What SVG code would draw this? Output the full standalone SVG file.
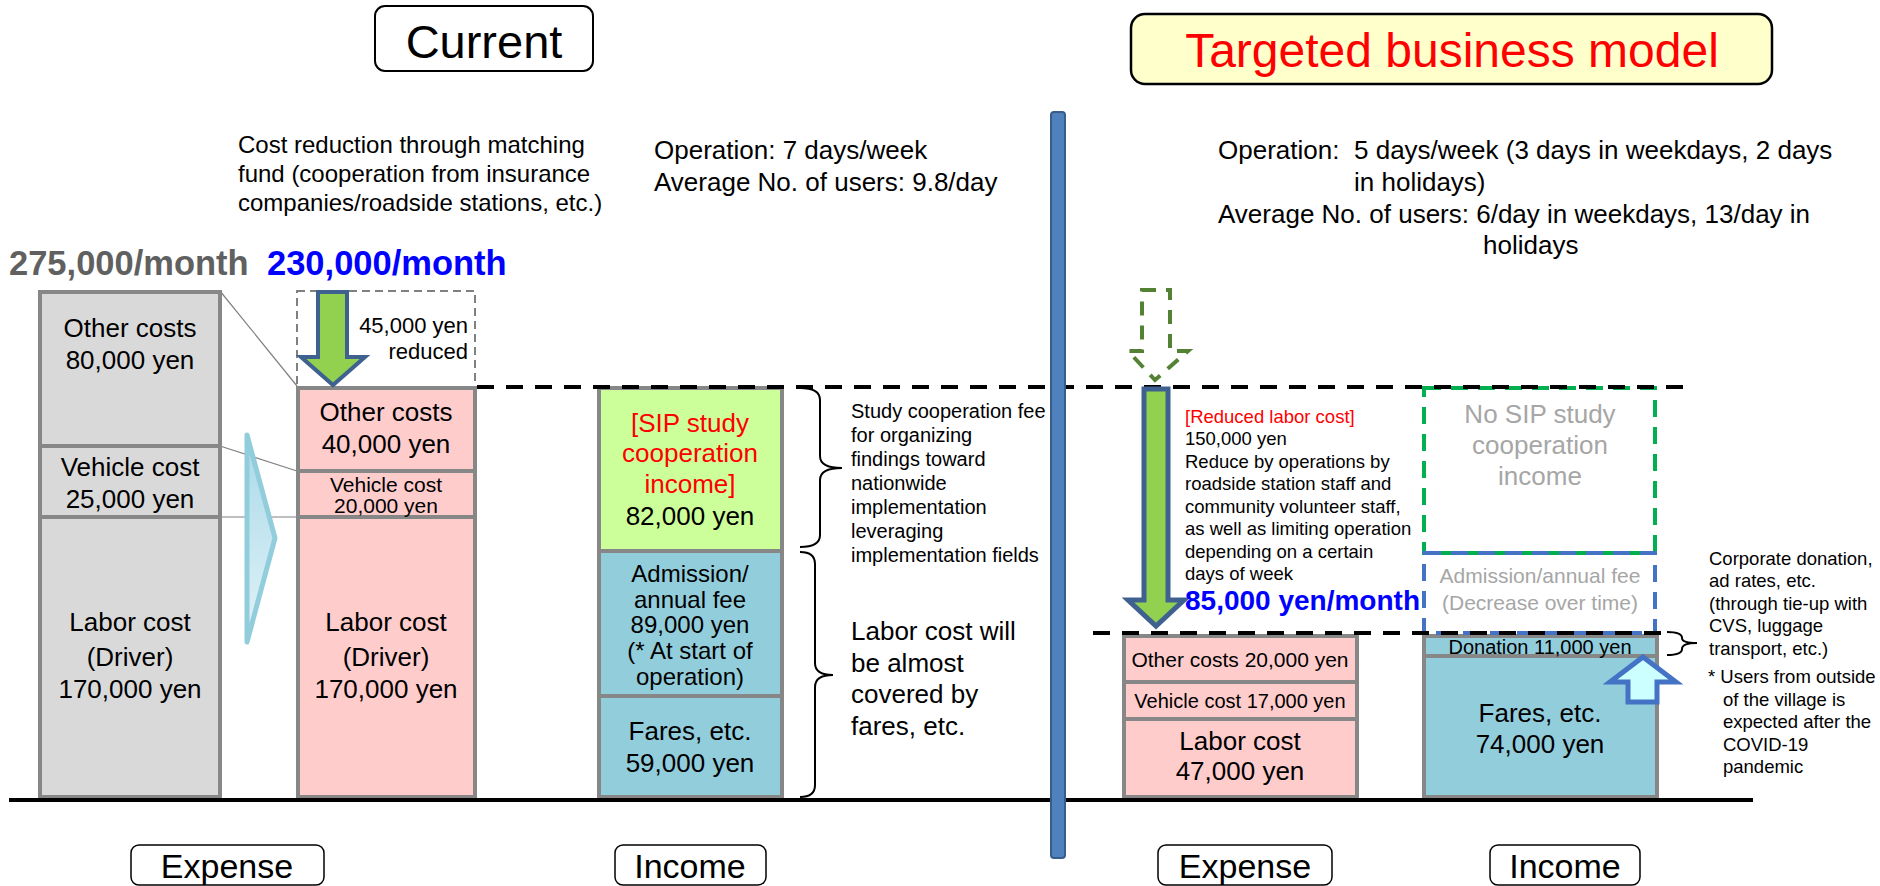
<svg xmlns="http://www.w3.org/2000/svg" width="1880" height="886" viewBox="0 0 1880 886">
<style>
text{font-family:"Liberation Sans",Arial,sans-serif;fill:#000}
.c{text-anchor:middle}
.box{stroke:#878787;stroke-width:4}
.gray{fill:#D9D9D9}
.pink{fill:#FFCCCC}
.blue{fill:#92CDDC}
.green{fill:#CCFF99}
.lbl{fill:#fff;stroke:#000;stroke-width:1.5}
.t26{font-size:26px}
.t24{font-size:24px}
.t21{font-size:21px}
.t20{font-size:20px}
.t18{font-size:18.5px}
.thin{stroke:#808080;stroke-width:1.2;fill:none}
.brace{fill:none;stroke:#000;stroke-width:2}
.dash{stroke:#000;stroke-width:4;stroke-dasharray:17 12;fill:none}
</style>
<defs>
<linearGradient id="chev" x1="0" y1="0" x2="0" y2="1">
<stop offset="0" stop-color="#A9D9E9"/>
<stop offset="1" stop-color="#E2F3F8"/>
</linearGradient>
</defs>
<rect width="1880" height="886" fill="#fff"/>

<g id="title-current">
<rect x="375" y="6" width="218" height="65" rx="10" fill="#fff" stroke="#000" stroke-width="2"/>
<text x="484" y="58" class="c" style="font-size:47px">Current</text>
</g>
<g id="title-target">
<rect x="1131" y="14" width="641" height="70" rx="14" fill="#FFFFCC" stroke="#000" stroke-width="2.5"/>
<text x="1452" y="67" class="c" style="font-size:48px;fill:#FF0000">Targeted business model</text>
</g>

<g id="note-cost-reduction">
<text x="238" y="153" class="t24">Cost reduction through matching</text>
<text x="238" y="182" class="t24">fund (cooperation from insurance</text>
<text x="238" y="211" class="t24">companies/roadside stations, etc.)</text>
</g>
<g id="note-current-operation">
<text x="654" y="159" class="t26">Operation: 7 days/week</text>
<text x="654" y="191" class="t26">Average No. of users: 9.8/day</text>
</g>
<g id="note-target-operation">
<text x="1218" y="159" class="t26">Operation:</text>
<text x="1354" y="159" class="t26">5 days/week (3 days in weekdays, 2 days</text>
<text x="1354" y="191" class="t26">in holidays)</text>
<text x="1218" y="223" class="t26">Average No. of users: 6/day in weekdays, 13/day in</text>
<text x="1483" y="254" class="t26">holidays</text>
</g>

<g id="total-current">
<text x="9" y="275" style="font-size:34.5px;font-weight:bold;fill:#606060">275,000/month</text>
</g>
<g id="total-reduced">
<text x="267" y="275" style="font-size:34.5px;font-weight:bold;fill:#0000FF">230,000/month</text>
</g>

<g id="connectors">
<line x1="220" y1="291" x2="297" y2="386" class="thin"/>
<line x1="220" y1="446" x2="297" y2="471" class="thin"/>
<line x1="220" y1="517" x2="297" y2="517" class="thin"/>
<rect x="297" y="291" width="178" height="96" fill="none" stroke="#808080" stroke-width="2" stroke-dasharray="8 5"/>
<polygon points="247,435 275,538 247,642" fill="url(#chev)" stroke="#92CDDC" stroke-width="5" stroke-linejoin="round"/>
<path d="M800,388 Q820,388 820,400 L820,456 Q820,468 842,468 Q820,468 820,480 L820,535 Q820,547 800,547" class="brace"/>
<path d="M800,552 Q815,552 815,564 L815,663 Q815,675 833,675 Q815,675 815,687 L815,785 Q815,797 800,797" class="brace"/>
<path d="M1667,632 Q1682,632 1682,638 Q1682,643 1697,643 Q1682,643 1682,649 Q1682,655 1667,655" class="brace"/>
</g>

<g id="exp-current-gray">
<rect x="40" y="292" width="180" height="154" class="box gray"/>
<rect x="40" y="446" width="180" height="71" class="box gray"/>
<rect x="40" y="517" width="180" height="280" class="box gray"/>
<text x="130" y="337" class="c t26">Other costs</text>
<text x="130" y="369" class="c t26">80,000 yen</text>
<text x="130" y="476" class="c t26">Vehicle cost</text>
<text x="130" y="508" class="c t26">25,000 yen</text>
<text x="130" y="631" class="c t26">Labor cost</text>
<text x="130" y="666" class="c t26">(Driver)</text>
<text x="130" y="698" class="c t26">170,000 yen</text>
</g>

<g id="exp-current-pink">
<rect x="298" y="388" width="177" height="83" class="box pink"/>
<rect x="298" y="471" width="177" height="46" class="box pink"/>
<rect x="298" y="517" width="177" height="280" class="box pink"/>
<text x="386" y="421" class="c t26">Other costs</text>
<text x="386" y="453" class="c t26">40,000 yen</text>
<text x="386" y="492" class="c t21">Vehicle cost</text>
<text x="386" y="513" class="c t21">20,000 yen</text>
<text x="386" y="631" class="c t26">Labor cost</text>
<text x="386" y="666" class="c t26">(Driver)</text>
<text x="386" y="698" class="c t26">170,000 yen</text>
</g>

<g id="arrow-reduction">
<polygon points="318,292 347,292 347,357 365,357 333,385 301,357 318,357" fill="#92D050" stroke="#3F6190" stroke-width="4" stroke-linejoin="miter"/>
<text x="468" y="333" style="font-size:22px;text-anchor:end">45,000 yen</text>
<text x="468" y="359" style="font-size:22px;text-anchor:end">reduced</text>
</g>

<g id="inc-current">
<rect x="599" y="388" width="183" height="163" class="box green"/>
<rect x="599" y="551" width="183" height="145" class="box blue"/>
<rect x="599" y="696" width="183" height="101" class="box blue"/>
<text x="690" y="432" class="c t26" style="fill:#FF0000">[SIP study</text>
<text x="690" y="462" class="c t26" style="fill:#FF0000">cooperation</text>
<text x="690" y="493" class="c t26" style="fill:#FF0000">income]</text>
<text x="690" y="525" class="c t26">82,000 yen</text>
<text x="690" y="582" class="c t24">Admission/</text>
<text x="690" y="608" class="c t24">annual fee</text>
<text x="690" y="633" class="c t24">89,000 yen</text>
<text x="690" y="659" class="c t24">(* At start of</text>
<text x="690" y="685" class="c t24">operation)</text>
<text x="690" y="740" class="c t26">Fares, etc.</text>
<text x="690" y="772" class="c t26">59,000 yen</text>
</g>

<g id="note-study-fee">
<text x="851" y="418" class="t20">Study cooperation fee</text>
<text x="851" y="442" class="t20">for organizing</text>
<text x="851" y="466" class="t20">findings toward</text>
<text x="851" y="490" class="t20">nationwide</text>
<text x="851" y="514" class="t20">implementation</text>
<text x="851" y="538" class="t20">leveraging</text>
<text x="851" y="562" class="t20">implementation fields</text>
</g>
<g id="note-labor-covered">
<text x="851" y="640" class="t26">Labor cost will</text>
<text x="851" y="672" class="t26">be almost</text>
<text x="851" y="703" class="t26">covered by</text>
<text x="851" y="735" class="t26">fares, etc.</text>
</g>

<g id="exp-target">
<rect x="1124" y="636" width="233" height="46" class="box pink"/>
<rect x="1124" y="682" width="233" height="37" class="box pink"/>
<rect x="1124" y="719" width="233" height="78" class="box pink"/>
<text x="1240" y="667" class="c t21">Other costs 20,000 yen</text>
<text x="1240" y="708" class="c t20">Vehicle cost 17,000 yen</text>
<text x="1240" y="750" class="c t26">Labor cost</text>
<text x="1240" y="780" class="c t26">47,000 yen</text>
</g>

<g id="inc-target">
<rect x="1424" y="636" width="233" height="20" class="box blue"/>
<rect x="1424" y="656" width="233" height="141" class="box blue"/>
<text x="1540" y="654" class="c t20">Donation 11,000 yen</text>
<text x="1540" y="722" class="c t26">Fares, etc.</text>
<text x="1540" y="753" class="c t26">74,000 yen</text>
</g>

<g id="no-sip">
<rect x="1424" y="388" width="231" height="165" fill="none" stroke="#00B050" stroke-width="4" stroke-dasharray="17 10"/>
<text x="1540" y="423" class="c t26" style="fill:#A6A6A6">No SIP study</text>
<text x="1540" y="454" class="c t26" style="fill:#A6A6A6">cooperation</text>
<text x="1540" y="485" class="c t26" style="fill:#A6A6A6">income</text>
</g>
<g id="admission-target">
<rect x="1424" y="553" width="231" height="80" fill="none" stroke="#4472C4" stroke-width="4" stroke-dasharray="17 10"/>
<text x="1540" y="583" class="c t21" style="fill:#A6A6A6">Admission/annual fee</text>
<text x="1540" y="610" class="c t21" style="fill:#A6A6A6">(Decrease over time)</text>
</g>

<g id="lines">
<line x1="477" y1="387" x2="1685" y2="387" class="dash"/>
<line x1="1093" y1="633" x2="1662" y2="633" class="dash"/>
<line x1="9" y1="800" x2="1753" y2="800" stroke="#000" stroke-width="4"/>
</g>

<g id="arrow-dashed">
<polygon points="1142,290 1170,290 1170,351 1188,351 1155,380 1128,351 1142,351" fill="none" stroke="#548235" stroke-width="4" stroke-dasharray="14 10"/>
</g>
<g id="arrow-labor-reduction">
<polygon points="1144,389 1168,389 1168,600 1184,600 1156,626 1128,600 1144,600" fill="#92D050" stroke="#3F6190" stroke-width="5"/>
<text x="1185" y="423" class="t18" style="fill:#FF0000">[Reduced labor cost]</text>
<text x="1185" y="445" class="t18">150,000 yen</text>
<text x="1185" y="468" class="t18">Reduce by operations by</text>
<text x="1185" y="490" class="t18">roadside station staff and</text>
<text x="1185" y="513" class="t18">community volunteer staff,</text>
<text x="1185" y="535" class="t18">as well as limiting operation</text>
<text x="1185" y="558" class="t18">depending on a certain</text>
<text x="1185" y="580" class="t18">days of week</text>
<text x="1185" y="610" style="font-size:28px;font-weight:bold;fill:#0000FF">85,000 yen/month</text>
</g>

<g id="arrow-up">
<polygon points="1643,657 1676,682 1657,682 1657,702 1628,702 1628,682 1610,682" fill="#CCFFFF" stroke="#4472C4" stroke-width="5"/>
</g>

<g id="note-donation">
<text x="1709" y="565" style="font-size:18.5px">Corporate donation,</text>
<text x="1709" y="587" style="font-size:18.5px">ad rates, etc.</text>
<text x="1709" y="610" style="font-size:18.5px">(through tie-up with</text>
<text x="1709" y="632" style="font-size:18.5px">CVS, luggage</text>
<text x="1709" y="655" style="font-size:18.5px">transport, etc.)</text>
<text x="1708" y="683" style="font-size:18.5px">* Users from outside</text>
<text x="1723" y="706" style="font-size:18.5px">of the village is</text>
<text x="1723" y="728" style="font-size:18.5px">expected after the</text>
<text x="1723" y="751" style="font-size:18.5px">COVID-19</text>
<text x="1723" y="773" style="font-size:18.5px">pandemic</text>
</g>

<g id="divider">
<rect x="1051" y="112" width="14" height="746" rx="3" fill="#4F81BD" stroke="#385D8A" stroke-width="2"/>
</g>

<g id="label-expense-current">
<rect x="131" y="845" width="193" height="40" rx="8" class="lbl"/>
<text x="227" y="878" class="c" style="font-size:34px">Expense</text>
</g>
<g id="label-income-current">
<rect x="615" y="845" width="151" height="40" rx="8" class="lbl"/>
<text x="690" y="878" class="c" style="font-size:34px">Income</text>
</g>
<g id="label-expense-target">
<rect x="1158" y="845" width="174" height="40" rx="8" class="lbl"/>
<text x="1245" y="878" class="c" style="font-size:34px">Expense</text>
</g>
<g id="label-income-target">
<rect x="1490" y="845" width="150" height="40" rx="8" class="lbl"/>
<text x="1565" y="878" class="c" style="font-size:34px">Income</text>
</g>
</svg>
